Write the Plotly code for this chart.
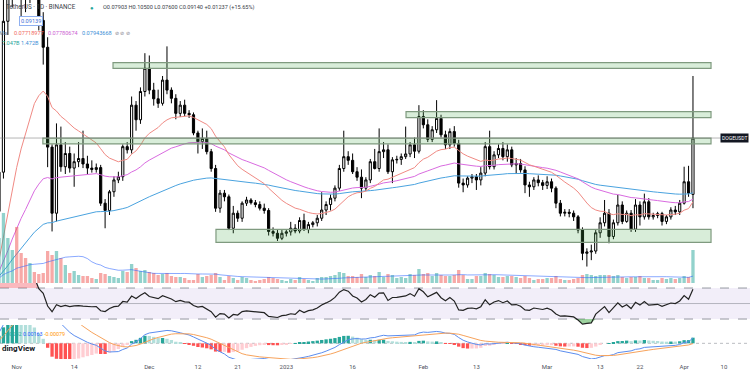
import numpy as np
import pandas as pd
import plotly.graph_objects as go

# ---------------- data ----------------
dates = pd.date_range("2022-10-28", "2023-04-03", freq="D")

opens = [
    0.0753, 0.0839, 0.1170, 0.1253,
    0.1320, 0.1286, 0.1275, 0.1234, 0.1293, 0.1288, 0.1172, 0.1113, 0.0894, 0.0749, 0.0899, 0.0851, 0.0880, 0.0848, 0.0862,
    0.0869, 0.0857, 0.0848, 0.0845, 0.0849, 0.0771, 0.0755, 0.0796, 0.0822, 0.0829, 0.0895, 0.0888, 0.0986, 0.0954, 0.1016,
    0.1067, 0.1019, 0.1000, 0.0990, 0.1041, 0.1019, 0.1001, 0.0968, 0.0986, 0.0968, 0.0965, 0.0925, 0.0906, 0.0913, 0.0884,
    0.0847, 0.0760, 0.0793, 0.0785, 0.0716, 0.0749, 0.0738, 0.0771, 0.0778, 0.0772, 0.0768, 0.0760, 0.0755, 0.0709, 0.0705, 0.0694,
    0.0705, 0.0708, 0.0716, 0.0710, 0.0733, 0.0713, 0.0724, 0.0728, 0.0738, 0.0756, 0.0768, 0.0782, 0.0804, 0.0847, 0.0873,
    0.0865, 0.0840, 0.0828, 0.0804, 0.0822, 0.0862, 0.0847, 0.0884, 0.0888, 0.0840, 0.0866, 0.0867, 0.0873, 0.0879, 0.0899, 0.0885,
    0.0961, 0.0943, 0.0911, 0.0932, 0.0957, 0.0921, 0.0899, 0.0928, 0.0902, 0.0815, 0.0811, 0.0826, 0.0829, 0.0822,
    0.0837, 0.0895, 0.0851, 0.0877, 0.0891, 0.0873, 0.0888, 0.0855, 0.0858, 0.0844, 0.0811, 0.0807, 0.0822, 0.0816,
    0.0810, 0.0818, 0.0804, 0.0771, 0.0749, 0.0751, 0.0749, 0.0741, 0.0712, 0.0661, 0.0664, 0.0666, 0.0706, 0.0728, 0.0749,
    0.0698, 0.0728, 0.0767, 0.0731, 0.0749, 0.0714, 0.0767, 0.0741, 0.0774, 0.0741, 0.0744, 0.0748, 0.0731, 0.0741, 0.0756, 0.0752,
    0.0771, 0.0818, 0.07903,
]
highs = [
    0.0860, 0.1270, 0.1290, 0.1370,
    0.1590, 0.1340, 0.1300, 0.1390, 0.1320, 0.1300, 0.1190, 0.1135, 0.0900, 0.0946, 0.0939, 0.0905, 0.0895, 0.0880, 0.0905,
    0.0930, 0.0875, 0.0865, 0.0858, 0.0855, 0.0780, 0.0800, 0.0830, 0.0840, 0.0900, 0.0905, 0.1005, 0.0995, 0.1025, 0.1100,
    0.1095, 0.1035, 0.1020, 0.1050, 0.1115, 0.1025, 0.1010, 0.0995, 0.0998, 0.0975, 0.0970, 0.0930, 0.0935, 0.0930, 0.0890,
    0.0855, 0.0800, 0.0800, 0.0790, 0.0765, 0.0755, 0.0775, 0.0785, 0.0782, 0.0778, 0.0775, 0.0770, 0.0760, 0.0718, 0.0712, 0.0712,
    0.0712, 0.0730, 0.0725, 0.0740, 0.0748, 0.0730, 0.0732, 0.0745, 0.0795, 0.0775, 0.0790, 0.0810, 0.0855, 0.0930, 0.0885,
    0.0880, 0.0850, 0.0845, 0.0828, 0.0868, 0.0890, 0.0935, 0.0905, 0.0900, 0.0872, 0.0875, 0.0880, 0.0939, 0.0905, 0.0915, 0.0986,
    0.0975, 0.0955, 0.0940, 0.0997, 0.0965, 0.0930, 0.0935, 0.0940, 0.0910, 0.0825, 0.0830, 0.0835, 0.0835, 0.0850,
    0.0905, 0.0930, 0.0885, 0.0900, 0.0905, 0.0900, 0.0895, 0.0870, 0.0868, 0.0852, 0.0818, 0.0828, 0.0832, 0.0822,
    0.0830, 0.0825, 0.0808, 0.0778, 0.0758, 0.0758, 0.0755, 0.0745, 0.0718, 0.0672, 0.0680, 0.0712, 0.0740, 0.0778, 0.0758,
    0.0735, 0.0789, 0.0775, 0.0755, 0.0756, 0.0780, 0.0775, 0.0792, 0.0782, 0.0750, 0.0752, 0.0752, 0.0745, 0.0762, 0.0765, 0.0778,
    0.0851, 0.0853, 0.1050,
]
lows = [
    0.0740, 0.0825, 0.1140, 0.1200,
    0.1240, 0.1180, 0.1190, 0.1210, 0.1230, 0.1150, 0.1075, 0.0850, 0.0709, 0.0731, 0.0840, 0.0835, 0.0838, 0.0807, 0.0850,
    0.0848, 0.0835, 0.0838, 0.0838, 0.0765, 0.0716, 0.0745, 0.0785, 0.0815, 0.0820, 0.0880, 0.0880, 0.0930, 0.0945, 0.1005,
    0.1010, 0.0985, 0.0980, 0.0985, 0.1010, 0.0990, 0.0955, 0.0960, 0.0962, 0.0958, 0.0920, 0.0880, 0.0890, 0.0878, 0.0840,
    0.0752, 0.0750, 0.0775, 0.0712, 0.0705, 0.0730, 0.0730, 0.0765, 0.0768, 0.0762, 0.0755, 0.0748, 0.0700, 0.0698, 0.0688, 0.0690,
    0.0698, 0.0700, 0.0705, 0.0705, 0.0710, 0.0705, 0.0718, 0.0720, 0.0732, 0.0745, 0.0755, 0.0775, 0.0798, 0.0840, 0.0855,
    0.0835, 0.0820, 0.0782, 0.0798, 0.0815, 0.0845, 0.0840, 0.0870, 0.0835, 0.0815, 0.0858, 0.0855, 0.0868, 0.0872, 0.0870, 0.0880,
    0.0935, 0.0905, 0.0905, 0.0925, 0.0915, 0.0890, 0.0890, 0.0895, 0.0805, 0.0795, 0.0805, 0.0815, 0.0800, 0.0810,
    0.0830, 0.0845, 0.0845, 0.0870, 0.0865, 0.0862, 0.0850, 0.0835, 0.0838, 0.0793, 0.0785, 0.0800, 0.0808, 0.0800,
    0.0802, 0.0795, 0.0760, 0.0742, 0.0742, 0.0740, 0.0732, 0.0705, 0.0646, 0.0632, 0.0646, 0.0660, 0.0695, 0.0720, 0.0683,
    0.0692, 0.0722, 0.0725, 0.0728, 0.0708, 0.0708, 0.0722, 0.0735, 0.0735, 0.0735, 0.0738, 0.0722, 0.0725, 0.0735, 0.0745, 0.0745,
    0.0768, 0.0785, 0.0760,
]
closes = [
    0.0839, 0.1170, 0.1253, 0.1320,
    0.1286, 0.1275, 0.1234, 0.1293, 0.1288, 0.1172, 0.1113, 0.0894, 0.0749, 0.0899, 0.0851, 0.0880, 0.0848, 0.0862, 0.0869,
    0.0857, 0.0848, 0.0845, 0.0849, 0.0771, 0.0755, 0.0796, 0.0822, 0.0829, 0.0895, 0.0888, 0.0986, 0.0954, 0.1016, 0.1067,
    0.1019, 0.1000, 0.0990, 0.1041, 0.1019, 0.1001, 0.0968, 0.0986, 0.0968, 0.0965, 0.0925, 0.0906, 0.0913, 0.0884, 0.0847,
    0.0760, 0.0793, 0.0785, 0.0716, 0.0749, 0.0738, 0.0771, 0.0778, 0.0772, 0.0768, 0.0760, 0.0755, 0.0709, 0.0705, 0.0694, 0.0705,
    0.0708, 0.0716, 0.0710, 0.0733, 0.0713, 0.0724, 0.0728, 0.0738, 0.0756, 0.0768, 0.0782, 0.0804, 0.0847, 0.0873, 0.0865,
    0.0840, 0.0828, 0.0804, 0.0822, 0.0862, 0.0847, 0.0884, 0.0888, 0.0840, 0.0866, 0.0867, 0.0873, 0.0879, 0.0899, 0.0885, 0.0961,
    0.0943, 0.0911, 0.0932, 0.0957, 0.0921, 0.0899, 0.0928, 0.0902, 0.0815, 0.0811, 0.0826, 0.0829, 0.0822, 0.0837,
    0.0895, 0.0851, 0.0877, 0.0891, 0.0873, 0.0888, 0.0855, 0.0858, 0.0844, 0.0811, 0.0807, 0.0822, 0.0816, 0.0810,
    0.0818, 0.0804, 0.0771, 0.0749, 0.0751, 0.0749, 0.0741, 0.0712, 0.0661, 0.0664, 0.0666, 0.0706, 0.0728, 0.0749, 0.0698,
    0.0728, 0.0767, 0.0731, 0.0749, 0.0714, 0.0767, 0.0741, 0.0774, 0.0741, 0.0744, 0.0748, 0.0731, 0.0741, 0.0756, 0.0752, 0.0771,
    0.0818, 0.0793, 0.0914,
]
# volume, billions of DOGE
volumes = [
    9.61, 14.95, 9.61, 7.05,
    11.96, 6.41, 5.34, 4.27, 2.35, 1.92, 2.14, 6.83, 5.98, 6.83, 5.34, 3.84, 2.14, 2.56, 1.71,
    1.49, 1.49, 1.07, 0.85, 2.14, 1.92, 1.49, 1.28, 1.07, 2.56, 2.35, 4.06, 3.20, 2.56, 2.78,
    2.35, 2.14, 1.71, 1.92, 2.14, 1.49, 1.28, 1.28, 1.07, 0.64, 0.64, 1.92, 1.28, 1.49, 1.71,
    2.14, 1.28, 0.64, 1.49, 1.07, 0.64, 1.28, 1.07, 0.64, 0.43, 0.64, 0.85, 1.28, 1.07, 0.85, 0.64,
    0.43, 0.85, 0.64, 1.28, 0.85, 0.64, 0.43, 1.07, 1.28, 1.28, 1.49, 1.71, 2.35, 2.14, 1.49,
    1.49, 1.28, 1.92, 1.28, 1.71, 1.49, 2.35, 1.28, 1.92, 1.71, 1.07, 1.28, 1.07, 1.92, 1.71, 2.99,
    1.92, 2.14, 1.49, 2.14, 1.71, 1.49, 1.49, 1.71, 2.78, 1.71, 0.85, 0.85, 1.49, 1.49,
    2.14, 1.92, 1.71, 1.28, 1.28, 1.49, 1.49, 1.28, 1.07, 1.49, 1.07, 0.64, 0.85, 0.85,
    1.07, 1.07, 1.49, 0.85, 0.64, 0.64, 0.85, 1.07, 1.71, 1.92, 1.71, 1.49, 1.71, 1.71, 1.71,
    1.49, 1.71, 1.28, 1.07, 1.28, 1.28, 1.49, 1.07, 1.07, 0.64, 0.64, 1.07, 0.85, 1.07, 0.85, 1.07,
    1.49, 1.28, 7.047,
]
# history before the visible window (needed to warm up the indicators)
warmup_closes = [
    0.0596, 0.0603, 0.0595, 0.0580, 0.0605, 0.0610, 0.0604, 0.0597, 0.0611, 0.0604,
    0.0608, 0.0619, 0.0612, 0.0608, 0.0602, 0.0620, 0.0646, 0.0636, 0.0631, 0.0621,
    0.0620, 0.0618, 0.0604, 0.0595, 0.0593, 0.0594, 0.0593, 0.0588, 0.0591, 0.0594,
    0.0589, 0.0580, 0.0590, 0.0603, 0.0610, 0.0628, 0.0617, 0.0638, 0.0662, 0.0753,
]
warmup_volumes = [0.35, 0.30, 0.40, 0.38, 0.45, 0.40, 0.25, 0.28, 0.35, 0.40,
                  0.42, 0.38, 0.45, 0.50, 0.48, 0.55, 0.80, 1.10, 3.20]

# support / resistance zones drawn on the chart
zone_lows = [0.10668, 0.09586, 0.09010, 0.06852]
zone_highs = [0.10793, 0.09718, 0.09139, 0.07137]
zone_starts = ["2022-11-22 19:00", "2023-01-28 02:00", "2022-11-06 22:00", "2022-12-16 02:00"]
zone_end = "2023-04-07 02:00"
last_price = 0.09139

tick_dates = ["2022-11-01", "2022-11-14", "2022-12-01", "2022-12-12", "2022-12-21", "2023-01-01",
              "2023-01-16", "2023-02-01", "2023-02-13", "2023-03-01", "2023-03-13", "2023-03-22",
              "2023-04-01", "2023-04-10"]
tick_text = ["Nov", "14", "Dec", "12", "21", "2023", "16", "Feb", "13", "Mar", "13", "22", "Apr", "10"]

assert len(opens) == len(highs) == len(lows) == len(closes) == len(volumes) == len(dates)

# ---------------- indicators ----------------
def ema(v, n):
    a = 2.0 / (n + 1)
    out = np.empty(len(v))
    out[0] = v[0]
    for i in range(1, len(v)):
        out[i] = out[i - 1] + a * (v[i] - out[i - 1])
    return out

def rsi(v, n=14):
    d = np.diff(v)
    g = np.clip(d, 0, None)
    l = np.clip(-d, 0, None)
    ag = np.full(len(v), np.nan)
    al = np.full(len(v), np.nan)
    ag[n] = g[:n].mean()
    al[n] = l[:n].mean()
    for i in range(n + 1, len(v)):
        ag[i] = (ag[i - 1] * (n - 1) + g[i - 1]) / n
        al[i] = (al[i - 1] * (n - 1) + l[i - 1]) / n
    return 100 - 100 / (1 + ag / al)

fc = np.array(warmup_closes + closes)
nw = len(warmup_closes)
ema20 = ema(fc, 20)[nw:]
ema50 = ema(fc, 50)[nw:]
ema100 = ema(fc, 100)[nw:]
rsi14 = rsi(fc)[nw:]
macd_full = ema(fc, 12) - ema(fc, 26)
sig_full = ema(macd_full, 9)
macd = macd_full[nw:]
signal = sig_full[nw:]
hist_full = macd_full - sig_full
hist = hist_full[nw:]

fv = np.array(warmup_volumes + volumes)
vol_ma = pd.Series(fv).rolling(20, min_periods=1).mean().values[len(warmup_volumes):]

hist_colors = []
for i in range(len(hist)):
    prev = hist_full[nw + i - 1]
    h = hist[i]
    if h >= 0:
        hist_colors.append("#26a69a" if h > prev else "#b2dfdb")
    else:
        hist_colors.append("#ff5252" if h < prev else "#ffcdd2")

vol_colors = ["rgba(38,166,154,0.5)" if c >= o else "rgba(239,83,80,0.5)" for o, c in zip(opens, closes)]

# ---------------- figure ----------------
H_PLOT = 359.0
def pdom(top_px, bot_px):
    return [1 - bot_px / H_PLOT, 1 - top_px / H_PLOT]

fig = go.Figure()

# volume (behind candles)
fig.add_trace(go.Bar(x=dates, y=volumes, marker=dict(color=vol_colors, line=dict(width=0)),
                     xaxis="x3", yaxis="y4", showlegend=False, hoverinfo="skip"))
fig.add_trace(go.Scatter(x=dates, y=vol_ma, mode="lines", line=dict(color="rgba(41,98,255,0.55)", width=1),
                         xaxis="x3", yaxis="y4", showlegend=False, hoverinfo="skip"))

# moving averages
fig.add_trace(go.Scatter(x=dates, y=ema100, mode="lines", line=dict(color="#4aa3df", width=1),
                         xaxis="x3", yaxis="y3", showlegend=False))
fig.add_trace(go.Scatter(x=dates, y=ema50, mode="lines", line=dict(color="#d96be0", width=1),
                         xaxis="x3", yaxis="y3", showlegend=False))
fig.add_trace(go.Scatter(x=dates, y=ema20, mode="lines", line=dict(color="#f08a84", width=1),
                         xaxis="x3", yaxis="y3", showlegend=False))

# candles
fig.add_trace(go.Candlestick(
    x=dates, open=opens, high=highs, low=lows, close=closes,
    increasing=dict(fillcolor="#ffffff", line=dict(color="#000000", width=1)),
    decreasing=dict(fillcolor="#000000", line=dict(color="#000000", width=1)),
    whiskerwidth=0, xaxis="x3", yaxis="y3", showlegend=False))

# RSI
rsi_top = np.maximum(rsi14, 70)
rsi_bot = np.minimum(rsi14, 30)
fig.add_trace(go.Scatter(x=dates, y=[70] * len(dates), mode="lines", line=dict(width=0),
                         xaxis="x2", yaxis="y2", showlegend=False, hoverinfo="skip"))
fig.add_trace(go.Scatter(x=dates, y=rsi_top, mode="lines", line=dict(width=0), fill="tonexty",
                         fillcolor="rgba(242,54,69,0.35)", xaxis="x2", yaxis="y2", showlegend=False, hoverinfo="skip"))
fig.add_trace(go.Scatter(x=dates, y=[30] * len(dates), mode="lines", line=dict(width=0),
                         xaxis="x2", yaxis="y2", showlegend=False, hoverinfo="skip"))
fig.add_trace(go.Scatter(x=dates, y=rsi_bot, mode="lines", line=dict(width=0), fill="tonexty",
                         fillcolor="rgba(76,175,80,0.55)", xaxis="x2", yaxis="y2", showlegend=False, hoverinfo="skip"))
fig.add_trace(go.Scatter(x=dates, y=rsi14, mode="lines", line=dict(color="#222222", width=1.2),
                         xaxis="x2", yaxis="y2", showlegend=False))

# MACD
fig.add_trace(go.Bar(x=dates, y=hist, marker=dict(color=hist_colors, line=dict(width=0)),
                     xaxis="x", yaxis="y", showlegend=False))
fig.add_trace(go.Scatter(x=dates, y=macd, mode="lines", line=dict(color="#5b8def", width=1),
                         xaxis="x", yaxis="y", showlegend=False))
fig.add_trace(go.Scatter(x=dates, y=signal, mode="lines", line=dict(color="#f7a35c", width=1),
                         xaxis="x", yaxis="y", showlegend=False))

x_range = ["2022-10-28 05:20", "2023-04-15 21:40"]
common_x = dict(range=x_range, showgrid=False, zeroline=False, showline=False, fixedrange=True)

shapes = []
# RSI band and levels
shapes.append(dict(type="rect", xref="paper", yref="y2", x0=0, x1=1, y0=30, y1=70,
                   fillcolor="rgba(126,87,194,0.10)", line=dict(width=0), layer="below"))
for lvl in (70, 30):
    shapes.append(dict(type="line", xref="paper", yref="y2", x0=0, x1=1, y0=lvl, y1=lvl,
                       line=dict(color="#9598a1", width=1, dash="dash"), layer="below"))
shapes.append(dict(type="line", xref="paper", yref="y2", x0=0, x1=1, y0=50, y1=50,
                   line=dict(color="rgba(120,123,134,0.5)", width=1), layer="below"))
# MACD zero line
shapes.append(dict(type="line", xref="paper", yref="y", x0=0, x1=1, y0=0, y1=0,
                   line=dict(color="rgba(120,123,134,0.5)", width=1, dash="dot"), layer="below"))
# zones
for lo, hi, st in zip(zone_lows, zone_highs, zone_starts):
    shapes.append(dict(type="rect", xref="x3", yref="y3", x0=st, x1=zone_end, y0=lo, y1=hi,
                       fillcolor="rgba(76,175,80,0.22)", line=dict(color="#7f9a7f", width=1.2),
                       layer="above"))
# last price line
shapes.append(dict(type="line", xref="paper", yref="y3", x0=0, x1=0.962, y0=last_price, y1=last_price,
                   line=dict(color="rgba(120,120,120,0.55)", width=1), layer="above"))

FONT = "Roboto, 'Open Sans', sans-serif"

def ann(text, px, py, size=6, color="#2a2e39", xanchor="left", **kw):
    d = dict(text=text, x=px / 750.0, y=1 - py / H_PLOT, xref="paper", yref="paper",
             xanchor=xanchor, yanchor="middle", showarrow=False,
             font=dict(size=size, color=color, family=FONT))
    d.update(kw)
    return d

annotations = [
    ann("TetherUS · 1D · BINANCE", 4, 7, 6.3, "#3a3e49"),
    ann("●", 88, 7, 6, "#26a69a"),
    ann("O0.07903 H0.10500 L0.07600 C0.09140 +0.01237 (+15.65%)", 101, 7, 5.6, "#3a3e49"),
    ann("0.09139", 19, 21, 5.6, "#3f6fd8", bgcolor="#ffffff", bordercolor="#8fb0f0",
        borderwidth=1, borderpad=1),
    ann("Ma", -3, 33, 5.6, "#787b86"),
    ann("0.07718977", 12, 33, 5.6, "#f06b63"),
    ann("0.07780674", 46, 33, 5.6, "#cc5fd3"),
    ann("0.07943668", 80, 33, 5.6, "#3d8fd6"),
    ann("⊘ ⊘ ⊘", 113, 33, 5.2, "#787b86"),
    ann("7.047B", 0, 43, 5.6, "#26a69a"),
    ann("1.472B", 19, 43, 5.6, "#3d8fd6"),
    ann("0.00242", 0, 334, 5.4, "#26a69a"),
    ann("0.00163", 21, 334, 5.4, "#2962ff"),
    ann("-0.00079", 42, 334, 5.4, "#ff9800"),
    ann("<b>dingView</b>", 0, 348, 8, "#131722"),
    ann("DOGEUSDT", 749, 138, 5, "#ffffff", xanchor="right", bgcolor="#131722", borderpad=1),
]

fig.update_layout(
    width=750, height=375,
    margin=dict(l=0, r=0, t=0, b=16),
    paper_bgcolor="#ffffff", plot_bgcolor="#ffffff",
    showlegend=False, bargap=0.25,
    xaxis=dict(common_x, domain=[0, 1], anchor="y",
               tickmode="array", tickvals=tick_dates, ticktext=tick_text, ticks="",
               ticklabelstandoff=3,
               tickfont=dict(size=6, color="#50535e", family=FONT), showticklabels=True),
    xaxis2=dict(common_x, domain=[0, 1], anchor="y2", matches="x", showticklabels=False),
    xaxis3=dict(common_x, domain=[0, 1], anchor="y3", matches="x", showticklabels=False,
                rangeslider=dict(visible=False)),
    yaxis=dict(domain=pdom(325, 359), range=[-0.0047, 0.0055], showgrid=False, zeroline=False,
               showticklabels=False, fixedrange=True),
    yaxis2=dict(domain=pdom(283, 325), range=[22.3, 76.5], showgrid=False, zeroline=False,
                showticklabels=False, fixedrange=True),
    yaxis3=dict(domain=pdom(0, 283), range=[0.05959, 0.12167], showgrid=False, zeroline=False,
                showticklabels=False, fixedrange=True),
    yaxis4=dict(overlaying="y3", range=[0, 60.4], showgrid=False, zeroline=False,
                showticklabels=False, fixedrange=True, anchor="x3"),
    shapes=shapes,
    annotations=annotations,
)

fig.write_html("out.html", config={"displayModeBar": False},
               post_script="document.body.style.margin='0px';")
